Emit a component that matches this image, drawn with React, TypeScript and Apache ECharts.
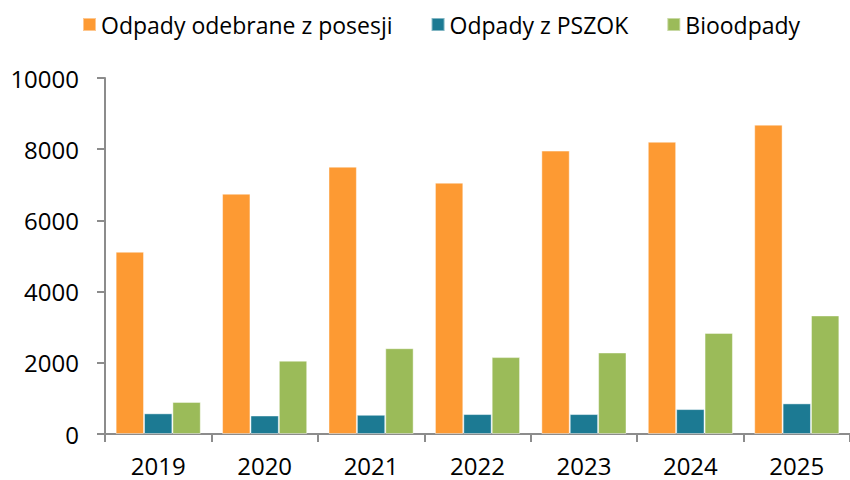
import React, { useEffect, useRef } from "react";
import * as echarts from "echarts";

const categories = ["2019", "2020", "2021", "2022", "2023", "2024", "2025"];
const seriesNames = ["Odpady odebrane z posesji", "Odpady z PSZOK", "Bioodpady"];
const posesji = [5120, 6750, 7510, 7060, 7960, 8210, 8690];
const pszok = [580, 520, 540, 560, 560, 700, 860];
const bio = [900, 2060, 2410, 2160, 2290, 2840, 3330];
const colors = ["#FD9A33", "#1C7A93", "#9BBB59"];

export default function App() {
  const ref = useRef<HTMLDivElement>(null);
  useEffect(() => {
    if (!ref.current) return;
    const chart = echarts.init(ref.current, undefined, { renderer: "svg" });
    const font = "'Open Sans', 'Liberation Sans', sans-serif";
    const mk = (name: string, data: number[], color: string) => ({
      name,
      type: "bar",
      data,
      barGap: "0%",
      barCategoryGap: "20%",
      itemStyle: { color, borderColor: "rgba(255,255,255,0.45)", borderWidth: 1 },
    });
    chart.setOption({
      animation: false,
      textStyle: { fontFamily: font },
      legend: {
        left: 77,
        top: 8,
        itemWidth: 13,
        itemHeight: 13,
        itemGap: 38,
        icon: "rect",
        textStyle: { fontSize: 23, color: "#000", fontFamily: font },
        data: seriesNames,
      },
      grid: { left: 105, right: 0, top: 78, bottom: 46, containLabel: false },
      xAxis: {
        type: "category",
        data: categories,
        axisLine: { lineStyle: { color: "#8c8c8c", width: 2 } },
        axisTick: { show: true, length: 8, lineStyle: { color: "#8c8c8c", width: 2 } },
        axisLabel: { fontSize: 24, color: "#000", margin: 19, fontFamily: font },
      },
      yAxis: {
        type: "value",
        min: 0,
        max: 10000,
        interval: 2000,
        axisLine: { show: true, lineStyle: { color: "#8c8c8c", width: 2 } },
        axisTick: { show: true, length: 8, lineStyle: { color: "#8c8c8c", width: 2 } },
        axisLabel: {
          fontSize: 24,
          color: "#000",
          margin: 26,
          fontFamily: font,
          formatter: (v: number) => String(v),
        },
        splitLine: { show: false },
      },
      series: [
        mk(seriesNames[0], posesji, colors[0]),
        mk(seriesNames[1], pszok, colors[1]),
        mk(seriesNames[2], bio, colors[2]),
      ],
    });
    return () => chart.dispose();
  }, []);
  return (
    <div
      ref={ref}
      style={{ position: "absolute", left: 0, top: 0, width: 850, height: 480 }}
    />
  );
}
